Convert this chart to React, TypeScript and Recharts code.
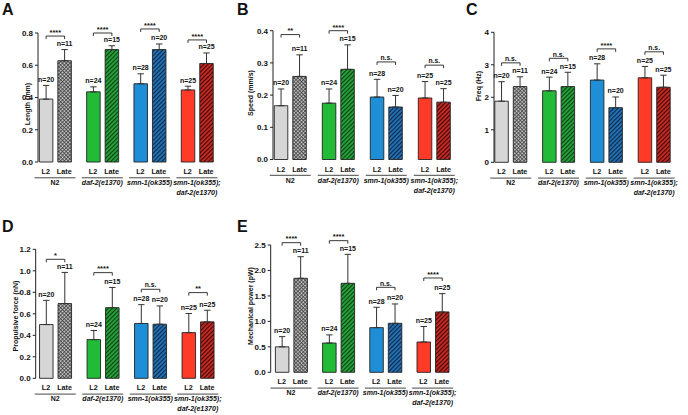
import React from 'react';
import { BarChart, Bar, XAxis, YAxis, ErrorBar, Cell, LabelList } from 'recharts';

const W = 688;
const H = 415;
const FONT = '"Liberation Sans", Arial, Helvetica, sans-serif';

// ---------- shared categories ----------
const groups = ['N2', 'daf-2(e1370)', 'smn-1(ok355)', 'smn-1(ok355); daf-2(e1370)'];
const barLabels = ['L2', 'Late'];
const nL2 = [20, 24, 28, 25];
const nLate = [11, 15, 20, 25];

// ---------- A: Length (mm) ----------
const lengthL2 = [0.39, 0.435, 0.485, 0.447];
const lengthL2Err = [0.085, 0.031, 0.062, 0.023];
const lengthLate = [0.628, 0.697, 0.697, 0.611];
const lengthLateErr = [0.069, 0.024, 0.035, 0.065];
const lengthSig = ['****', '****', '****', '****'];
const lengthBracket = [0.781, 0.8, 0.825, 0.757];
const lengthTicks = [0, 0.2, 0.4, 0.6, 0.8];

// ---------- B: Speed (mm/s) ----------
const speedL2 = [0.167, 0.175, 0.194, 0.191];
const speedL2Err = [0.052, 0.044, 0.055, 0.051];
const speedLate = [0.258, 0.28, 0.163, 0.178];
const speedLateErr = [0.067, 0.076, 0.036, 0.042];
const speedSig = ['**', '****', 'n.s.', 'n.s.'];
const speedBracket = [0.388, 0.4, 0.303, 0.293];
const speedTicks = [0, 0.1, 0.2, 0.3, 0.4];

// ---------- C: Freq (Hz) ----------
const freqL2 = [1.88, 2.2, 2.53, 2.6];
const freqL2Err = [0.6, 0.42, 0.5, 0.35];
const freqLate = [2.33, 2.33, 1.68, 2.31];
const freqLateErr = [0.3, 0.44, 0.33, 0.37];
const freqSig = ['n.s.', 'n.s.', '****', 'n.s.'];
const freqBracket = [3.06, 3.2, 3.49, 3.4];
const freqTicks = [0, 1, 2, 3, 4];

// ---------- D: Propulsive force (nN) ----------
const forceL2 = [0.5, 0.36, 0.51, 0.425];
const forceL2Err = [0.225, 0.085, 0.175, 0.178];
const forceLate = [0.695, 0.657, 0.503, 0.525];
const forceLateErr = [0.29, 0.188, 0.17, 0.108];
const forceSig = ['*', '****', 'n.s.', '**'];
const forceBracket = [1.107, 0.983, 0.828, 0.797];
const forceTicks = [0, 0.2, 0.4, 0.6, 0.8, 1.0, 1.2];

// ---------- E: Mechanical power (pW) ----------
const powerL2 = [0.5, 0.575, 0.877, 0.595];
const powerL2Err = [0.2, 0.16, 0.4, 0.305];
const powerLate = [1.846, 1.747, 0.962, 1.185];
const powerLateErr = [0.424, 0.57, 0.38, 0.36];
const powerSig = ['****', '****', 'n.s.', '****'];
const powerBracket = [2.546, 2.585, 1.669, 1.852];
const powerTicks = [0, 0.5, 1.0, 1.5, 2.0, 2.5];

// ---------- colours ----------
const l2Colors = ['#d6d6d6', '#22bb38', '#1e8fd6', '#ff3a26'];
const lateBase = ['#d8d8d8', '#27a53c', '#2374b8', '#c92c24'];
const lateStripe = ['#3c3c3c', '#0a3a10', '#0a2442', '#3a0505'];

function buildTable(l2, l2e, late, latee, sig, bracket) {
  return groups.map((g, i) => ({
    group: g,
    l2: l2[i],
    l2Err: [0, l2e[i]],
    late: late[i],
    lateErr: [0, latee[i]],
    nL2: nL2[i],
    nLate: nLate[i],
    sig: sig[i],
    bracket: bracket[i],
  }));
}

const panels = [
  {
    id: 'A', yLabel: 'Length (mm)', yMax: 0.8, ticks: lengthTicks, fmt: (v) => v.toFixed(1),
    data: buildTable(lengthL2, lengthL2Err, lengthLate, lengthLateErr, lengthSig, lengthBracket),
    cfg: { axisX: 38, yTop: 33, y0: 162, firstBar: 39, pitch: 47.3, labelX: 27, labelY: 104 },
  },
  {
    id: 'B', yLabel: 'Speed (mm/s)', yMax: 0.4, ticks: speedTicks, fmt: (v) => v.toFixed(1),
    data: buildTable(speedL2, speedL2Err, speedLate, speedLateErr, speedSig, speedBracket),
    cfg: { axisX: 273, yTop: 30.7, y0: 159.5, firstBar: 274.3, pitch: 48, labelX: 250, labelY: 93 },
  },
  {
    id: 'C', yLabel: 'Freq (Hz)', yMax: 4, ticks: freqTicks, fmt: (v) => String(v),
    data: buildTable(freqL2, freqL2Err, freqLate, freqLateErr, freqSig, freqBracket),
    cfg: { axisX: 494, yTop: 32.3, y0: 162.3, firstBar: 494.7, pitch: 47.8, labelX: 478.7, labelY: 86 },
  },
  {
    id: 'D', yLabel: 'Propulsive force (nN)', yMax: 1.2, ticks: forceTicks, fmt: (v) => v.toFixed(1),
    data: buildTable(forceL2, forceL2Err, forceLate, forceLateErr, forceSig, forceBracket),
    cfg: { axisX: 35.7, yTop: 249.3, y0: 378.3, firstBar: 39.3, pitch: 47.5, labelX: 15, labelY: 316 },
  },
  {
    id: 'E', yLabel: 'Mechanical power (pW)', yMax: 2.5, ticks: powerTicks, fmt: (v) => v.toFixed(1),
    data: buildTable(powerL2, powerL2Err, powerLate, powerLateErr, powerSig, powerBracket),
    cfg: { axisX: 270.7, yTop: 245, y0: 372.3, firstBar: 275, pitch: 47.2, labelX: 250, labelY: 306 },
  },
];

const letters = [
  { t: 'A', x: 2, y: 14.5 },
  { t: 'B', x: 237, y: 15 },
  { t: 'C', x: 466, y: 15 },
  { t: 'D', x: 2, y: 232.3 },
  { t: 'E', x: 237, y: 232.3 },
];

const BAR_W = 13.5;
const BAR_GAP = 5;
const X_AXIS_H = 30;
const Y_AXIS_W = 30;
const TXT = '#111111';
const txtStyle = { fill: TXT };

function Panel({ p }) {
  const { cfg, data, id } = p;
  const bandStart = cfg.firstBar - (cfg.pitch - (2 * BAR_W + BAR_GAP)) / 2;
  const plotRight = bandStart + 4 * cfg.pitch;
  const margin = {
    top: cfg.yTop,
    left: cfg.axisX - Y_AXIS_W,
    right: W - plotRight,
    bottom: H - cfg.y0 - X_AXIS_H,
  };

  const GroupTick = (props) => {
    const { x, payload } = props;
    const y = cfg.y0;
    const name = String(payload.value);
    const lines = name.split('; ').map((s, i, arr) => (i < arr.length - 1 ? s + ';' : s));
    const italic = name !== 'N2';
    const off = (BAR_W + BAR_GAP) / 2;
    return (
      <g>
        <text x={x - off} y={y + 9.5} textAnchor="middle" dominantBaseline="central" fontSize={7.2} fontWeight="bold" style={txtStyle} fontFamily={FONT}>{barLabels[0]}</text>
        <text x={x + off} y={y + 9.5} textAnchor="middle" dominantBaseline="central" fontSize={7.2} fontWeight="bold" style={txtStyle} fontFamily={FONT}>{barLabels[1]}</text>
        <line x1={x - 20.5} x2={x + 20.5} y1={y + 15.8} y2={y + 15.8} stroke="#333" strokeWidth={0.9} />
        {lines.map((ln, i) => (
          <text key={i} x={x} y={y + 20.5 + i * 10} textAnchor="middle" dominantBaseline="central" fontSize={7} fontWeight="bold" fontStyle={italic ? 'italic' : 'normal'} style={txtStyle} fontFamily={FONT}>{ln}</text>
        ))}
      </g>
    );
  };

  const geom = (props, isLate) => {
    const index = props.index;
    const vb = props.viewBox || props;
    const d = data[index];
    const mean = isLate ? d.late : d.l2;
    const err = isLate ? d.lateErr[1] : d.l2Err[1];
    const base = vb.y + vb.height;
    const k = vb.height / mean;
    const cx = vb.x + vb.width / 2;
    return { d, base, k, cx, errTop: base - (mean + err) * k };
  };

  const L2Label = (props) => {
    if (props.index == null) return null;
    const g = geom(props, false);
    return (
      <text x={g.cx} y={g.errTop - 6} textAnchor="middle" dominantBaseline="central" fontSize={7} fontWeight="bold" style={txtStyle} fontFamily={FONT}>{`n=${g.d.nL2}`}</text>
    );
  };

  const LateLabel = (props) => {
    if (props.index == null) return null;
    const g = geom(props, true);
    const by = g.base - g.d.bracket * g.k;
    const x1 = g.cx - (BAR_W + BAR_GAP);
    const x2 = g.cx;
    const stars = g.d.sig.includes('*');
    return (
      <g>
        <text x={g.cx} y={g.errTop - 6} textAnchor="middle" dominantBaseline="central" fontSize={7} fontWeight="bold" style={txtStyle} fontFamily={FONT}>{`n=${g.d.nLate}`}</text>
        <path d={`M${x1},${by + 3}V${by}H${x2}V${by + 3}`} fill="none" stroke="#222" strokeWidth={0.9} />
        <text x={(x1 + x2) / 2} y={by - (stars ? 1.2 : 1.8)} textAnchor="middle" fontSize={stars ? 7.5 : 6.8} fontWeight="bold" style={txtStyle} fontFamily={FONT}>{g.d.sig}</text>
      </g>
    );
  };

  const YLabel = () => (
    <text
      x={cfg.labelX}
      y={cfg.labelY}
      transform={`rotate(-90 ${cfg.labelX} ${cfg.labelY})`}
      textAnchor="middle"
      dominantBaseline="central"
      fontSize={7}
      fontWeight="bold"
      style={txtStyle}
      fontFamily={FONT}
    >
      {p.yLabel}
    </text>
  );

  return (
    <div style={{ position: 'absolute', left: 0, top: 0, width: W, height: H }}>
      <BarChart width={W} height={H} data={data} margin={margin} barGap={BAR_GAP} barSize={BAR_W}>
        <defs>
          {lateBase.map((c, i) => (
            <pattern key={i} id={`hatch-${id}-${i}`} patternUnits="userSpaceOnUse" width={i === 0 ? 2.6 : 3} height={i === 0 ? 2.6 : 3} patternTransform="rotate(45)">
              <rect x={0} y={0} width={3} height={3} fill={c} />
              <line x1={0.6} y1={0} x2={0.6} y2={3} stroke={lateStripe[i]} strokeWidth={i === 0 ? 0.9 : 1.1} />
              {i === 0 ? <line x1={0} y1={0.6} x2={3} y2={0.6} stroke={lateStripe[i]} strokeWidth={0.9} /> : null}
            </pattern>
          ))}
        </defs>
        <XAxis
          dataKey="group"
          type="category"
          axisLine={false}
          tickLine={false}
          tickSize={0}
          tickMargin={0}
          height={X_AXIS_H}
          interval={0}
          padding={{ left: bandStart - cfg.axisX, right: 0 }}
          tick={GroupTick}
        />
        <YAxis
          type="number"
          domain={[0, p.yMax]}
          ticks={p.ticks}
          tickFormatter={p.fmt}
          width={Y_AXIS_W}
          axisLine={{ stroke: '#222', strokeWidth: 1 }}
          tickLine={{ stroke: '#222', strokeWidth: 1 }}
          tickSize={3}
          tickMargin={2}
          tick={{ fontSize: 8, fontWeight: 'bold', fill: TXT, fontFamily: FONT }}
          label={{ content: YLabel }}
        />
        <Bar dataKey="l2" isAnimationActive={false} stroke="#222" strokeWidth={0.9}>
          {data.map((d, i) => (
            <Cell key={i} fill={l2Colors[i]} />
          ))}
          <ErrorBar dataKey="l2Err" width={3.2} stroke="#333" strokeWidth={1} direction="y" isAnimationActive={false} />
          <LabelList dataKey="nL2" content={L2Label} />
        </Bar>
        <Bar dataKey="late" isAnimationActive={false} stroke="#222" strokeWidth={0.9}>
          {data.map((d, i) => (
            <Cell key={i} fill={`url(#hatch-${id}-${i})`} />
          ))}
          <ErrorBar dataKey="lateErr" width={3.2} stroke="#333" strokeWidth={1} direction="y" isAnimationActive={false} />
          <LabelList dataKey="nLate" content={LateLabel} />
        </Bar>
      </BarChart>
    </div>
  );
}

export default function App() {
  return (
    <div style={{ position: 'absolute', left: 0, top: 0, width: W, height: H, background: '#fff', fontFamily: FONT }}>
      {panels.map((p) => (
        <Panel key={p.id} p={p} />
      ))}
      <svg width={W} height={H} style={{ position: 'absolute', left: 0, top: 0, pointerEvents: 'none' }}>
        {letters.map((l) => (
          <text key={l.t} x={l.x} y={l.y} fontSize={16} fontWeight="bold" fill="#111" fontFamily={FONT}>{l.t}</text>
        ))}
      </svg>
    </div>
  );
}
